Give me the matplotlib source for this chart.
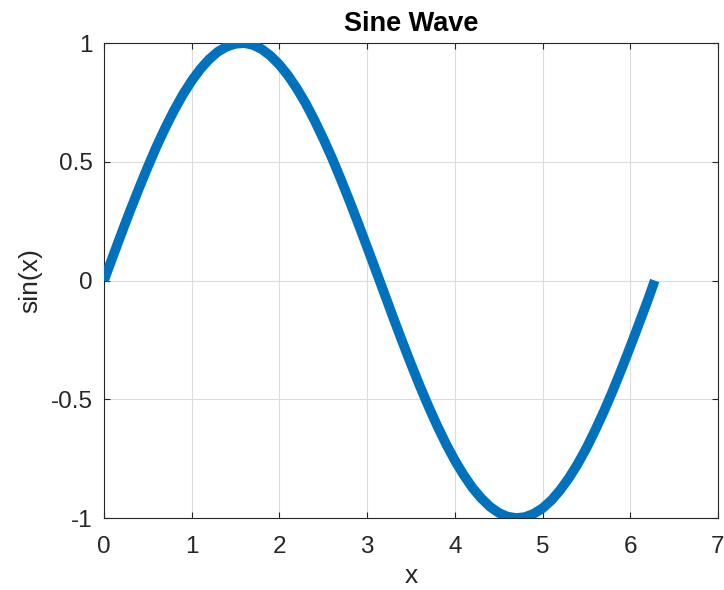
import numpy as np
import matplotlib
matplotlib.use('Agg')
import matplotlib.pyplot as plt

# sampled points of the curve
x = [0.0, 0.1, 0.2, 0.3, 0.4, 0.5, 0.6, 0.7, 0.8, 0.9,
     1.0, 1.1, 1.2, 1.3, 1.4, 1.5, 1.6, 1.7, 1.8, 1.9,
     2.0, 2.1, 2.2, 2.3, 2.4, 2.5, 2.6, 2.7, 2.8, 2.9,
     3.0, 3.1, 3.2, 3.3, 3.4, 3.5, 3.6, 3.7, 3.8, 3.9,
     4.0, 4.1, 4.2, 4.3, 4.4, 4.5, 4.6, 4.7, 4.8, 4.9,
     5.0, 5.1, 5.2, 5.3, 5.4, 5.5, 5.6, 5.7, 5.8, 5.9,
     6.0, 6.1, 6.2, 6.28]
y = [0.000, 0.100, 0.199, 0.296, 0.389, 0.479, 0.565, 0.644, 0.717, 0.783,
     0.841, 0.891, 0.932, 0.964, 0.985, 0.997, 1.000, 0.992, 0.974, 0.946,
     0.909, 0.863, 0.808, 0.746, 0.675, 0.598, 0.516, 0.427, 0.335, 0.239,
     0.141, 0.042, -0.058, -0.158, -0.256, -0.351, -0.443, -0.530, -0.612, -0.688,
     -0.757, -0.818, -0.872, -0.916, -0.952, -0.978, -0.994, -1.000, -0.996, -0.982,
     -0.959, -0.926, -0.883, -0.832, -0.773, -0.706, -0.631, -0.551, -0.465, -0.374,
     -0.279, -0.182, -0.083, 0.000]

xticks = [0, 1, 2, 3, 4, 5, 6, 7]
yticks = [-1, -0.5, 0, 0.5, 1]
ytick_labels = ['-1', '-0.5', '0', '0.5', '1']

plt.rcParams['font.family'] = ['Liberation Sans', 'DejaVu Sans']
plt.rcParams['axes.unicode_minus'] = False

fig = plt.figure(figsize=(7.24, 5.90), dpi=100)
ax = fig.add_axes([0.1436, 0.122, 0.848, 0.805])

ax.plot(x, y, color='#0072BD', linewidth=7, solid_capstyle='butt',
        solid_joinstyle='round', zorder=3)

ax.set_xlim(0, 7)
ax.set_ylim(-1, 1)
ax.set_xticks(xticks)
ax.set_yticks(yticks)
ax.set_yticklabels(ytick_labels)

ax.grid(True, color='#dcdcdc', linewidth=0.8)
ax.set_axisbelow(True)
ax.tick_params(direction='in', top=True, right=True, length=4.5, width=0.8,
               color='#262626', labelsize=17.5, labelcolor='#262626')
ax.tick_params(axis='x', pad=13)
ax.tick_params(axis='y', pad=8)
for s in ax.spines.values():
    s.set_color('#262626')
    s.set_linewidth(0.8)

ax.set_title('Sine Wave', fontsize=19.5, fontweight='bold', pad=9)
ax.set_xlabel('x', fontsize=19, color='#262626', labelpad=4)
ax.set_ylabel('sin(x)', fontsize=19, color='#262626', labelpad=6)

fig.savefig('out.png', dpi=100)
